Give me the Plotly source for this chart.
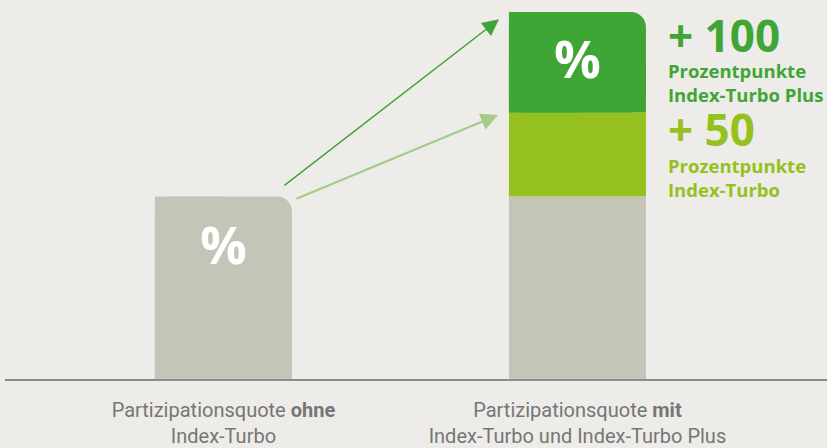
import plotly.graph_objects as go

# ---- data ----
categories = ["Partizipationsquote <b>ohne</b><br>Index-Turbo",
              "Partizipationsquote <b>mit</b><br>Index-Turbo und Index-Turbo Plus"]
x_pos = [0, 1]
base_values = [100, 100]      # Partizipationsquote (grey)
turbo_values = [0, 46]        # Index-Turbo (+50 Prozentpunkte)
plus_values = [0, 55]         # Index-Turbo Plus (+100 Prozentpunkte)
bar_labels = ["%", "%"]
side_labels = [("+ 100", "Prozentpunkte<br>Index-Turbo Plus"),
               ("+ 50", "Prozentpunkte<br>Index-Turbo")]

BG = "#EDECE8"
GREY = "#C5C4B8"
LIGHT = "#95C11F"
DARK = "#3FA535"
ARROW_LIGHT = "#A3CC86"
W = 0.387
R = 15

fig = go.Figure()

def bar(x, y, base, color, radius=0, width=W, offset=None):
    kw = dict(x=x, y=y, base=base, marker=dict(color=color, line=dict(width=0)),
              hoverinfo="skip", showlegend=False, width=[width] * len(x))
    if offset is not None:
        kw["offset"] = offset
    if radius:
        kw["marker"]["cornerradius"] = radius
    fig.add_trace(go.Bar(**kw))

def top_right_rounded(x, h, base, color):
    # rounded bar, then square patches so only the top-right corner stays rounded
    bar([x], [h], [base], color, radius=R)
    bar([x], [h], [base], color, width=W / 2, offset=-W / 2)
    bar([x], [h / 2], [base], color)

# left grey bar
top_right_rounded(x_pos[0], base_values[0], 0, GREY)
# right stack
bar([x_pos[1]], [base_values[1]], [0], GREY)
bar([x_pos[1]], [turbo_values[1]], [base_values[1]], LIGHT)
top_base = base_values[1] + turbo_values[1]
top_right_rounded(x_pos[1], plus_values[1], top_base, DARK)

# percent signs
fig.add_annotation(x=x_pos[0], y=base_values[0] * 0.745, text="<b>" + bar_labels[0] + "</b>",
                   showarrow=False, yanchor="middle",
                   font=dict(size=52, color="white", family="Open Sans"))
fig.add_annotation(x=x_pos[1], y=top_base + plus_values[1] * 0.55, text="<b>" + bar_labels[1] + "</b>",
                   showarrow=False, yanchor="middle",
                   font=dict(size=52, color="white", family="Open Sans"))

# arrows
total = base_values[1] + turbo_values[1] + plus_values[1]
fig.add_annotation(x=x_pos[1] - W / 2 - 0.028, y=total - 4,
                   ax=x_pos[0] + 0.168, ay=base_values[0] + 5.4,
                   axref="x", ayref="y", xref="x", yref="y", text="",
                   showarrow=True, arrowhead=2, arrowsize=2.2, arrowwidth=1.5,
                   arrowcolor=DARK, standoff=0)
fig.add_annotation(x=x_pos[1] - W / 2 - 0.031, y=top_base - 1.4,
                   ax=x_pos[0] + 0.202, ay=base_values[0] - 1.6,
                   axref="x", ayref="y", xref="x", yref="y", text="",
                   showarrow=True, arrowhead=2, arrowsize=1.7, arrowwidth=2,
                   arrowcolor=ARROW_LIGHT, standoff=0)

# side labels
tx = (667 - 5) / 822
def py(p):
    return (382 - p) / 382
for (big, small), color, yb, ys in [(side_labels[0], DARK, 35, 83),
                                    (side_labels[1], LIGHT, 130, 179)]:
    fig.add_annotation(xref="paper", yref="paper", x=tx, y=py(yb), xanchor="left", yanchor="middle",
                       text="<b>" + big + "</b>", showarrow=False, borderpad=0,
                       font=dict(size=44, color=color, family="Open Sans"))
    fig.add_annotation(xref="paper", yref="paper", x=tx, y=py(ys), xanchor="left", yanchor="middle",
                       align="left", text="<b>" + small + "</b>", showarrow=False, borderpad=0,
                       font=dict(size=18.5, color=color, family="Open Sans"))

fig.update_layout(
    width=827, height=448,
    margin=dict(l=5, r=0, t=0, b=66),
    paper_bgcolor=BG, plot_bgcolor=BG,
    barmode="overlay",
    xaxis=dict(range=[-0.617, 1.705], tickvals=x_pos, ticktext=categories,
               showgrid=False, zeroline=False, showline=True, linecolor="#8C8C8C", linewidth=2,
               ticks="", ticklabelstandoff=12,
               tickfont=dict(size=20, color="#767676", family="Roboto, sans-serif")),
    yaxis=dict(range=[0, 382 / 1.84], visible=False, showgrid=False, zeroline=False),
)

fig.write_html("out.html", config={"displayModeBar": False},
               post_script="document.body.style.margin='0px';")
